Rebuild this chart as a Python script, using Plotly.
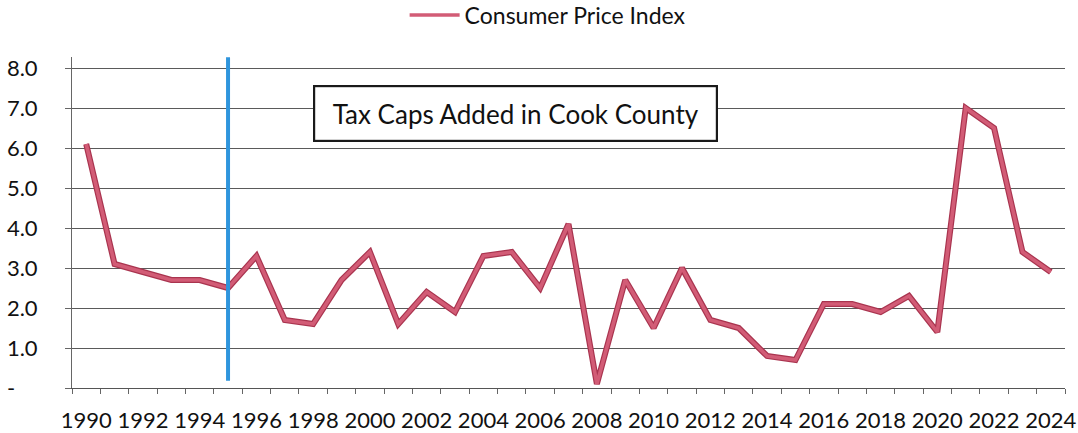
import plotly.graph_objects as go

# Annual CPI change, 1990-2024
years = [str(y) for y in range(1990, 2025)]
cpi = [6.1, 3.1, 2.9, 2.7, 2.7, 2.5, 3.3, 1.7, 1.6, 2.7,
       3.4, 1.6, 2.4, 1.9, 3.3, 3.4, 2.5, 4.1, 0.1, 2.7,
       1.5, 3.0, 1.7, 1.5, 0.8, 0.7, 2.1, 2.1, 1.9, 2.3,
       1.4, 7.0, 6.5, 3.4, 2.9]

x_ticktext = [y if int(y) % 2 == 0 else "" for y in years]
y_tickvals = [0, 1, 2, 3, 4, 5, 6, 7, 8]
y_ticktext = ["-\u00a0\u00a0\u00a0\u00a0"] + [f"{v:.1f}" for v in y_tickvals[1:]]

# Year the tax caps took effect, and the extent of its marker line
cap_year = "1995"
cap_span = [0.18, 8.27]

font_family = "Lato, Calibri, Carlito, sans-serif"
text_color = "#111111"
line_edge = "#a9344f"
line_fill = "#d25c76"

fig = go.Figure()

# darker edge under the CPI line
fig.add_trace(go.Scatter(
    x=years, y=cpi, mode="lines",
    line=dict(color=line_edge, width=6),
    showlegend=False, hoverinfo="skip",
))
fig.add_trace(go.Scatter(
    x=years, y=cpi, mode="lines", name="Consumer Price Index",
    line=dict(color=line_fill, width=3.6),
))
fig.add_trace(go.Scatter(
    x=[cap_year, cap_year], y=cap_span, mode="lines",
    line=dict(color="#2f95dd", width=4),
    showlegend=False, hoverinfo="skip",
))

fig.add_annotation(
    text="Tax Caps Added in Cook County",
    xref="paper", yref="paper", x=0.4466, y=0.829,
    xanchor="center", yanchor="middle", showarrow=False,
    font=dict(family=font_family, size=26, color=text_color),
    bordercolor="#1a1a1a", borderwidth=2.2, borderpad=0,
    width=401, height=53, bgcolor="white",
)

fig.update_layout(
    width=1078, height=433,
    margin=dict(l=72, r=13, t=57, b=45, autoexpand=False),
    paper_bgcolor="white", plot_bgcolor="white",
    font=dict(family=font_family, size=22, color=text_color),
    showlegend=True,
    legend=dict(
        orientation="h", xref="container", yref="container",
        x=0.508, y=1 - 15 / 433, xanchor="center", yanchor="middle",
        font=dict(size=23, color=text_color), itemwidth=50,
        bgcolor="rgba(0,0,0,0)",
    ),
    xaxis=dict(
        type="category", range=[-0.5, 34.5], automargin=False,
        tickmode="array", tickvals=years, ticktext=x_ticktext,
        tickson="boundaries", ticks="outside", ticklen=5,
        tickcolor="#666", tickwidth=1,
        showline=True, linecolor="#555", linewidth=1.2,
        showgrid=False, zeroline=False, tickangle=0,
        ticklabelstandoff=12,
    ),
    yaxis=dict(
        range=[0, 8.275], tickmode="array", automargin=False,
        tickvals=y_tickvals, ticktext=y_ticktext,
        showgrid=True, gridcolor="#5a5a5a", gridwidth=1.2,
        zeroline=False, showline=True, linecolor="#666", linewidth=1,
        ticks="outside", ticklen=6, tickcolor="#666", tickwidth=1,
        ticklabelstandoff=23,
    ),
)

fig.write_html("out.html")
